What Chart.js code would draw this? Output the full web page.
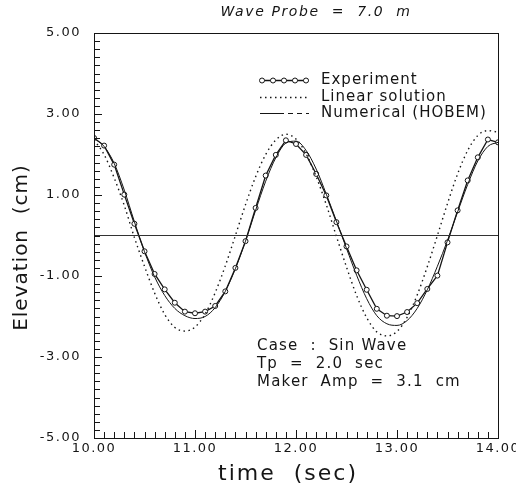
<!DOCTYPE html>
<html>
<head>
    <title>Wave Probe = 7.0 m</title>
    <script src="https://cdn.jsdelivr.net/npm/chart.js"></script>
    <style>
        body { margin: 0; background: #fff; }
        .chart-container { width: 516px; height: 493px; position: relative; }
    </style>
</head>
<body>
    <div class="chart-container">
        <canvas id="waveChart" width="516" height="493"></canvas>
    </div>

    <script>
        // time axis (sec), one sample every 0.1 s
        const times = [10.0, 10.1, 10.2, 10.3, 10.4, 10.5, 10.6, 10.7, 10.8, 10.9,
                       11.0, 11.1, 11.2, 11.3, 11.4, 11.5, 11.6, 11.7, 11.8, 11.9,
                       12.0, 12.1, 12.2, 12.3, 12.4, 12.5, 12.6, 12.7, 12.8, 12.9,
                       13.0, 13.1, 13.2, 13.3, 13.4, 13.5, 13.6, 13.7, 13.8, 13.9, 14.0];

        // elevation (cm)
        const experiment = [2.41, 2.22, 1.75, 1.01, 0.29, -0.39, -0.95, -1.33, -1.66, -1.88,
                            -1.92, -1.88, -1.74, -1.38, -0.80, -0.14, 0.68, 1.48, 1.99, 2.35,
                            2.26, 1.99, 1.52, 0.99, 0.33, -0.27, -0.86, -1.34, -1.81, -1.98,
                            -1.99, -1.89, -1.67, -1.32, -0.99, -0.17, 0.62, 1.36, 1.93, 2.37, 2.30];

        const linear = [2.36, 2.00, 1.42, 0.74, -0.05, -0.76, -1.42, -1.95, -2.27, -2.36,
                        -2.26, -1.94, -1.41, -0.75, 0.00, 0.76, 1.45, 2.00, 2.36, 2.50,
                        2.38, 2.02, 1.45, 0.76, -0.02, -0.78, -1.48, -2.03, -2.38, -2.48,
                        -2.37, -2.02, -1.47, -0.77, 0.00, 0.79, 1.52, 2.10, 2.47, 2.59, 2.55];

        const numerical = [2.40, 2.20, 1.78, 1.12, 0.34, -0.40, -1.02, -1.48, -1.80, -1.98,
                           -2.05, -2.00, -1.78, -1.38, -0.82, -0.14, 0.62, 1.34, 1.92, 2.28,
                           2.33, 2.10, 1.64, 1.02, 0.36, -0.32, -0.98, -1.56, -1.98, -2.18,
                           -2.22, -2.10, -1.80, -1.34, -0.76, -0.12, 0.58, 1.26, 1.84, 2.20, 2.30];

        const zeroLine = [0, 0];
        const zeroTimes = [10.0, 14.0];

        const caseNotes = ['Case  :  Sin Wave', 'Tp  =  2.0  sec', 'Maker  Amp  =  3.1  cm'];

        const INK = '#151515';
        const FONT = '"DejaVu Sans", sans-serif';

        function pairs(xs, ys) {
            return xs.map((t, i) => ({ x: t, y: ys[i] }));
        }

        function isMajorX(v) { return Math.abs(v - Math.round(v)) < 1e-6; }
        function isMajorY(v) { return Math.abs(v - Math.round(v)) < 1e-6 && Math.abs(Math.round(v)) % 2 === 1; }

        // wider letter spacing for the tick labels drawn by Chart.js
        const spacingPlugin = {
            id: 'spacing',
            beforeDraw(chart) { chart.ctx.letterSpacing = '1.5px'; }
        };

        // frame + inward tick marks
        const framePlugin = {
            id: 'frame',
            afterDraw(chart) {
                const { ctx, chartArea: a, scales: { x, y } } = chart;
                ctx.save();
                ctx.setLineDash([]);
                ctx.strokeStyle = INK;
                ctx.lineWidth = 1;
                ctx.strokeRect(Math.round(a.left) + 0.5, Math.round(a.top) + 0.5,
                               Math.round(a.right - a.left), Math.round(a.bottom - a.top));
                ctx.beginPath();
                x.ticks.forEach(t => {
                    const px = Math.round(x.getPixelForValue(t.value)) + 0.5;
                    const len = isMajorX(t.value) ? 8 : 6;
                    ctx.moveTo(px, a.bottom);
                    ctx.lineTo(px, a.bottom - len);
                });
                y.ticks.forEach(t => {
                    const py = Math.round(y.getPixelForValue(t.value)) + 0.5;
                    const len = isMajorY(t.value) ? 8 : 6;
                    ctx.moveTo(a.left, py);
                    ctx.lineTo(a.left + len, py);
                });
                ctx.stroke();
                ctx.restore();
            }
        };

        // titles, legend and case notes
        const textPlugin = {
            id: 'texts',
            afterDraw(chart) {
                const { ctx, chartArea: a } = chart;
                const cx = (a.left + a.right) / 2;
                ctx.save();
                ctx.fillStyle = INK;
                ctx.textBaseline = 'middle';

                ctx.textAlign = 'center';
                ctx.font = 'italic 14px ' + FONT;
                ctx.letterSpacing = '1.6px';
                ctx.fillText('Wave Probe  =  7.0  m', 316, 12);

                ctx.font = '22px ' + FONT;
                ctx.letterSpacing = '2px';
                ctx.fillText('time  (sec)', cx - 8, 474);

                ctx.save();
                ctx.translate(22, (a.top + a.bottom) / 2 + 12);
                ctx.rotate(-Math.PI / 2);
                ctx.font = '20px ' + FONT;
                ctx.letterSpacing = '1px';
                ctx.fillText('Elevation  (cm)', 0, 0);
                ctx.restore();

                // legend
                ctx.textAlign = 'left';
                ctx.font = '15px ' + FONT;
                ctx.letterSpacing = '1px';
                const sx0 = 260, sx1 = 309, tx = 321;
                const rows = [80, 97, 113];
                const ds = chart.data.datasets;
                const items = [ds[3], ds[2], ds[1]];
                items.forEach((d, i) => {
                    const yy = rows[i] + 0.5;
                    ctx.save();
                    ctx.strokeStyle = d.borderColor;
                    ctx.lineWidth = d.borderWidth;
                    if (i === 2) ctx.setLineDash([24, 4, 5, 4, 5, 4]);
                    else ctx.setLineDash(d.borderDash || []);
                    ctx.beginPath();
                    ctx.moveTo(sx0, yy);
                    ctx.lineTo(sx1, yy);
                    ctx.stroke();
                    if (d.pointRadius > 0) {
                        ctx.setLineDash([]);
                        ctx.fillStyle = '#fff';
                        ctx.lineWidth = 1;
                        for (let k = 0; k < 5; k++) {
                            const px = sx0 + 2 + k * 11;
                            ctx.beginPath();
                            ctx.arc(px, yy, d.pointRadius, 0, Math.PI * 2);
                            ctx.fill();
                            ctx.stroke();
                        }
                    }
                    ctx.restore();
                    ctx.fillText(d.label, tx, rows[i]);
                });

                // case notes
                ctx.letterSpacing = '1.2px';
                caseNotes.forEach((line, i) => {
                    ctx.fillText(line, 257, 346 + i * 18);
                });
                ctx.restore();
            }
        };

        const ctx = document.getElementById('waveChart').getContext('2d');
        new Chart(ctx, {
            type: 'line',
            data: {
                datasets: [
                    {
                        label: 'zero',
                        data: pairs(zeroTimes, zeroLine),
                        borderColor: '#333',
                        borderWidth: 1,
                        pointRadius: 0
                    },
                    {
                        label: 'Numerical (HOBEM)',
                        data: pairs(times, numerical),
                        borderColor: INK,
                        borderWidth: 1,
                        pointRadius: 0,
                        cubicInterpolationMode: 'monotone'
                    },
                    {
                        label: 'Linear solution',
                        data: pairs(times, linear),
                        borderColor: INK,
                        borderWidth: 1.4,
                        borderDash: [1.5, 3.5],
                        pointRadius: 0,
                        cubicInterpolationMode: 'monotone'
                    },
                    {
                        label: 'Experiment',
                        data: pairs(times, experiment),
                        borderColor: INK,
                        borderWidth: 1.3,
                        pointRadius: 2.5,
                        pointBorderWidth: 1,
                        pointBackgroundColor: '#fff',
                        pointBorderColor: INK,
                        tension: 0
                    }
                ]
            },
            options: {
                responsive: false,
                animation: false,
                devicePixelRatio: 1,
                layout: { padding: { top: 33, right: 18, left: 0, bottom: 0 } },
                plugins: { legend: { display: false }, tooltip: { enabled: false } },
                scales: {
                    x: {
                        type: 'linear',
                        min: 10, max: 14,
                        grid: { display: false, drawTicks: false },
                        border: { display: false },
                        ticks: {
                            stepSize: 0.1,
                            autoSkip: false,
                            maxRotation: 0,
                            minRotation: 0,
                            padding: 3,
                            color: INK,
                            font: { family: FONT, size: 13 },
                            callback: v => isMajorX(v) ? v.toFixed(2) : ''
                        },
                        afterFit: s => { s.height = 55; s.paddingLeft = 0; s.paddingRight = 0; }
                    },
                    y: {
                        min: -5, max: 5,
                        grid: { display: false, drawTicks: false },
                        border: { display: false },
                        ticks: {
                            stepSize: 0.2,
                            autoSkip: false,
                            padding: 13,
                            color: INK,
                            font: { family: FONT, size: 13 },
                            callback: v => isMajorY(v) ? v.toFixed(2) : ''
                        },
                        afterFit: s => { s.width = 94; }
                    }
                }
            },
            plugins: [spacingPlugin, framePlugin, textPlugin]
        });
    </script>
</body>
</html>
